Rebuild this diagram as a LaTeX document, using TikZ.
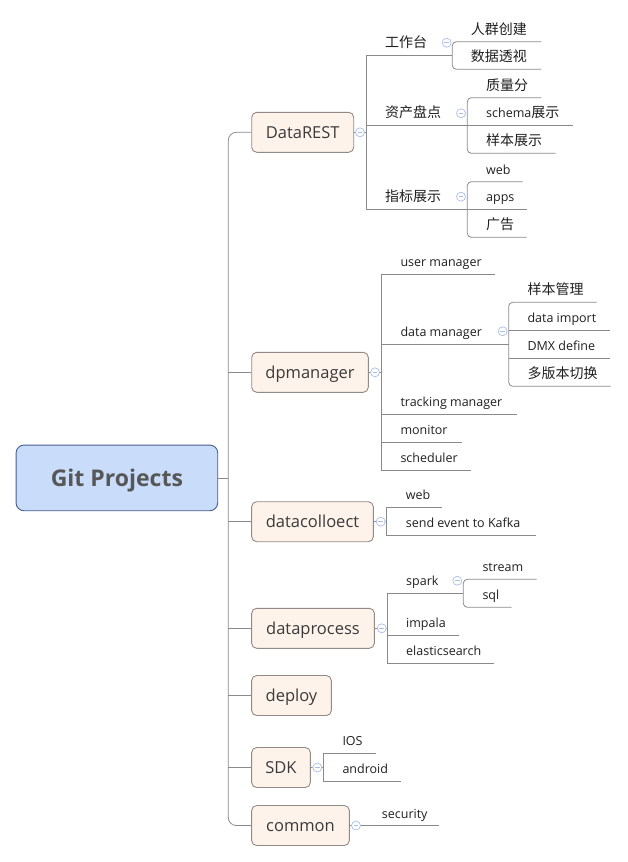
\documentclass[tikz,border=0pt]{standalone}
\usepackage{fontspec}
\setmainfont{Open Sans}
\newfontfamily\cjk{Noto Sans CJK SC}
\definecolor{linegray}{HTML}{8A8A8A}
\definecolor{boxline}{HTML}{928A84}
\definecolor{boxfill}{HTML}{FDF3EA}
\definecolor{rootfill}{HTML}{C9DCFA}
\definecolor{rootline}{HTML}{46618F}
\definecolor{foldblue}{HTML}{A9BFEA}
\definecolor{textdark}{HTML}{3A3A3A}
\newcommand\zhtext[1]{{\cjk\fontsize{14}{16}\selectfont #1}}
\tikzset{
  conn/.style={draw=linegray, line width=0.8pt},
  mainbox/.style={draw=rootline, fill=rootfill, rounded corners=8pt, line width=0.9pt,
    font=\bfseries\fontsize{23}{27}\selectfont, text=textdark!85, inner sep=0pt,
    text height=16.4pt, text depth=0pt},
  topbox/.style={draw=boxline, fill=boxfill, rounded corners=5pt, line width=0.9pt,
    minimum height=40pt, font=\fontsize{16.5}{20}\selectfont, text=textdark, inner sep=0pt,
    text height=11.8pt, text depth=0pt},
  leaf/.style={anchor=base west, inner sep=0pt, font=\fontsize{12.5}{15}\selectfont, text=black!88},
  cleaf/.style={anchor=base west, inner sep=0pt, font=\cjk\fontsize{14}{16}\selectfont, text=black!88},
  fold/.style={circle, draw=foldblue, fill=white, line width=0.7pt, minimum size=9pt, inner sep=0pt,
    path picture={\draw[foldblue, line width=0.7pt]
      ([xshift=-2.4pt]path picture bounding box.center) -- ([xshift=2.4pt]path picture bounding box.center);}},
}
\begin{document}
\begin{tikzpicture}[x=1pt,y=-1pt]
\useasboundingbox (0,0) rectangle (627,862);
% ---- boxes
\node[mainbox, minimum width=201.7pt, minimum height=65.7pt] (root) at (116.9,477.9) {Git Projects};
\node[topbox, minimum width=102pt]   (DataREST) at (302.7,132.3) {DataREST};
\node[topbox, minimum width=116.6pt] (dpm)      at (310,372.3)   {dpmanager};
\node[topbox, minimum width=121.7pt] (dcol)     at (312.5,521.7) {datacolloect};
\node[topbox, minimum width=122.7pt] (dproc)    at (313,628.3)   {dataprocess};
\node[topbox, minimum width=79.7pt]  (deploy)   at (291.5,695.5) {deploy};
\node[topbox, minimum width=58.7pt]  (sdk)      at (281,767.5)   {SDK};
\node[topbox, minimum width=97.7pt]  (common)   at (300.5,825.5) {common};
% ---- trunk
\coordinate (T) at (228.3,477.9);
\draw[conn, rounded corners=8pt] (DataREST.west) -| (T) |- (common.west);
\draw[conn] (root.east) -- (T);
\foreach \n in {dpm,dcol,dproc,deploy,sdk} \draw[conn] (\n.west) -- (\n.west -| T);

% ---- DataREST
\coordinate (DRb) at (366.7,132.3);
\draw[conn] (DataREST.east) -- (DRb);
\draw[conn] (452.3,55) -- (366.7,55) -- (366.7,209.3) -- (527.3,209.3);
\draw[conn] (366.7,125.3) -- (573.3,125.3);
\node[cleaf] (gzt)  at (385,47.5)  {工作台};
\node[cleaf] (zcpd) at (385,117.8) {资产盘点};
\node[cleaf] (zbzs) at (385,201.8) {指标展示};
\draw[conn, rounded corners=4pt] (541,41.7) -- (452.3,41.7) -- (452.3,69.3) -- (541,69.3);
\node[cleaf] (rqcj) at (470.7,34.2) {人群创建};
\node[cleaf] (sjts) at (470.7,61.8) {数据透视};
\draw[conn, rounded corners=4pt] (541,97.7) -- (467.3,97.7) -- (467.3,153.3) -- (555.7,153.3);
\node[cleaf] (zlf)  at (486,90.2)  {质量分};
\node[leaf]  (sch)  at (486,117.8) {schema\zhtext{展示}};
\node[cleaf] (ybzs) at (486,145.8) {样本展示};
\draw[conn, rounded corners=4pt] (522.7,181.7) -- (467.3,181.7) -- (467.3,237.3) -- (526.7,237.3);
\node[leaf]  (web1) at (486,174.2) {web};
\node[leaf]  (apps) at (486,201.8) {apps};
\node[cleaf] (gg)   at (486,229.8) {广告};

% ---- dpmanager
\coordinate (DPb) at (381.7,372.3);
\draw[conn] (dpm.east) -- (DPb);
\draw[conn] (495,274.3) -- (381.7,274.3) -- (381.7,470) -- (470.7,470);
\draw[conn] (381.7,344.3) -- (508.7,344.3);
\draw[conn] (381.7,414.3) -- (516.7,414.3);
\draw[conn] (381.7,442.3) -- (461.7,442.3);
\node[leaf] (um)  at (400.3,266.8) {user manager};
\node[leaf] (dm)  at (400.3,336.8) {data manager};
\node[leaf] (tm)  at (400.3,406.8) {tracking manager};
\node[leaf] (mon) at (400.3,434.8) {monitor};
\node[leaf] (sch2) at (400.3,462.5) {scheduler};
\draw[conn, rounded corners=4pt] (596.7,302.3) -- (508.7,302.3) -- (508.7,386.3) -- (610.7,386.3);
\draw[conn] (508.7,330.3) -- (610,330.3);
\draw[conn] (508.7,358.3) -- (610,358.3);
\node[cleaf] (ybgl) at (527.3,294.8) {样本管理};
\node[leaf]  (di)   at (527.3,322.8) {data import};
\node[leaf]  (dmx)  at (527.3,350.8) {DMX define};
\node[cleaf] (dbb)  at (527.3,378.8) {多版本切换};

% ---- datacolloect
\coordinate (DCb) at (386.7,521.7);
\draw[conn] (dcol.east) -- (DCb);
\draw[conn] (441.7,507.3) -- (386.7,507.3) -- (386.7,535) -- (535.7,535);
\node[leaf] (web2)  at (405.7,499.8) {web};
\node[leaf] (kafka) at (405.7,527.5) {send event to Kafka};

% ---- dataprocess
\coordinate (DPRb) at (387.3,628.3);
\draw[conn] (dproc.east) -- (DPRb);
\draw[conn] (463.3,593.3) -- (387.3,593.3) -- (387.3,663) -- (494,663);
\draw[conn] (387.3,635.3) -- (458.7,635.3);
\node[leaf] (spark) at (406,585.8) {spark};
\node[leaf] (imp)   at (406,627.8) {impala};
\node[leaf] (es)    at (406,655.5) {elasticsearch};
\draw[conn, rounded corners=4pt] (536.7,579.3) -- (463.3,579.3) -- (463.3,607.3) -- (511.7,607.3);
\node[leaf] (stream) at (482.3,571.8) {stream};
\node[leaf] (sql)    at (482.3,599.8) {sql};

% ---- SDK
\coordinate (SDb) at (323.3,767.5);
\draw[conn] (sdk.east) -- (SDb);
\draw[conn] (375.7,753.3) -- (323.3,753.3) -- (323.3,781) -- (400.7,781);
\node[leaf] (ios) at (342.3,745.8) {IOS};
\node[leaf] (and) at (342.3,773.5) {android};

% ---- common
\coordinate (COe) at (439.3,825.5);
\draw[conn] (common.east) -- (COe);
\node[leaf] (sec) at (381.7,818) {security};

% ---- fold markers
\node[fold] (f1) at (360,132.3) {};
\node[fold] (f2) at (446.7,42.7) {};
\node[fold] (f3) at (461,113.3) {};
\node[fold] (f4) at (461,196.7) {};
\node[fold] (f5) at (375,372.3) {};
\node[fold] (f6) at (502.7,331.3) {};
\node[fold] (f7) at (380.7,521.7) {};
\node[fold] (f8) at (381.7,628.3) {};
\node[fold] (f9) at (457.3,580.7) {};
\node[fold] (f10) at (317.3,767.5) {};
\node[fold] (f11) at (356,825.5) {};
\end{tikzpicture}
\end{document}
